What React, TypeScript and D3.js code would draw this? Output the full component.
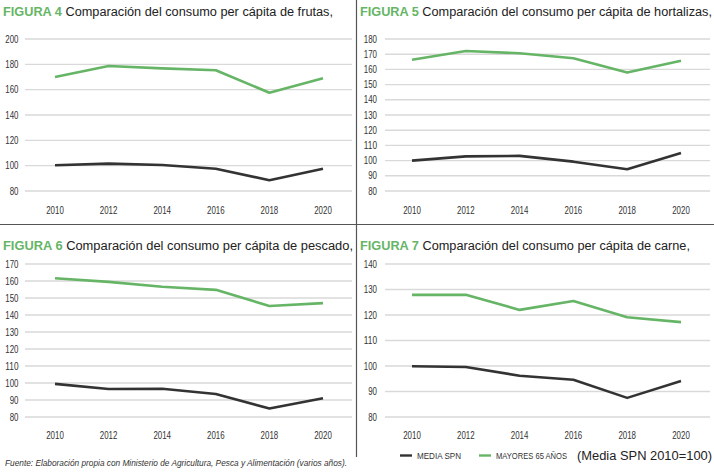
import * as d3 from "d3";
import { useEffect, useRef } from "react";

// Years on the x axis, shared by every panel
const years = [2010, 2012, 2014, 2016, 2018, 2020];

// Index values (Media SPN 2010 = 100)
const frutasMedia = [100.3, 101.6, 100.5, 97.6, 88.5, 97.6];
const frutasMayores = [170, 178.7, 176.8, 175.3, 157.6, 169];

const hortalizasMedia = [100, 102.8, 103.1, 99.3, 94.3, 105];
const hortalizasMayores = [166.4, 172.1, 170.6, 167.3, 157.9, 165.7];

const pescadoMedia = [99.5, 96.5, 96.6, 93.5, 85, 91];
const pescadoMayores = [161.6, 159.5, 156.6, 154.8, 145.3, 147];

const carneMedia = [99.9, 99.6, 96.2, 94.6, 87.5, 94.1];
const carneMayores = [127.9, 127.9, 122, 125.5, 119.1, 117.2];

// y axis ticks per panel
const frutasTicks = [80, 100, 120, 140, 160, 180, 200];
const hortalizasTicks = [80, 90, 100, 110, 120, 130, 140, 150, 160, 170, 180];
const pescadoTicks = [80, 90, 100, 110, 120, 130, 140, 150, 160, 170];
const carneTicks = [80, 90, 100, 110, 120, 130, 140];

const figureLabels = ["FIGURA 4", "FIGURA 5", "FIGURA 6", "FIGURA 7"];
const titleTexts = [
  " Comparación del consumo per cápita de frutas,",
  " Comparación del consumo per cápita de hortalizas,",
  " Comparación del consumo per cápita de pescado,",
  " Comparación del consumo per cápita de carne,",
];

const legendLabels = ["MEDIA SPN", "MAYORES 65 AÑOS"];
const legendNote = "(Media SPN 2010=100)";
const sourceNote =
  "Fuente: Elaboración propia con Ministerio de Agricultura, Pesca y Alimentación  (varios años).";

const GREEN = "#66b566";
const DARK = "#333333";
const GRID = "#d9d9d9";
const SANS = "'Liberation Sans', Arial, sans-serif";

// tick labels in the original are a condensed face: squeeze a regular one
const DIGIT_W = 4.4;

interface Panel {
  media: number[];
  mayores: number[];
  ticks: number[];
  col: number;
  row: number;
  titleWidth: number;
}

const panels: Panel[] = [
  { media: frutasMedia, mayores: frutasMayores, ticks: frutasTicks, col: 0, row: 0, titleWidth: 330 },
  { media: hortalizasMedia, mayores: hortalizasMayores, ticks: hortalizasTicks, col: 1, row: 0, titleWidth: 352 },
  { media: pescadoMedia, mayores: pescadoMayores, ticks: pescadoTicks, col: 0, row: 1, titleWidth: 350 },
  { media: carneMedia, mayores: carneMayores, ticks: carneTicks, col: 1, row: 1, titleWidth: 330 },
];

const W = 714;
const H = 476;

export default function App() {
  const svgRef = useRef<SVGSVGElement>(null);

  useEffect(() => {
    if (!svgRef.current) return;
    const svg = d3.select(svgRef.current);
    svg.selectAll("*").remove();

    // panel dividers
    svg.append("line").attr("x1", 0).attr("x2", W).attr("y1", 224.5).attr("y2", 224.5)
      .attr("stroke", "#555").attr("stroke-width", 1.2);
    svg.append("line").attr("x1", 356.5).attr("x2", 356.5).attr("y1", 0).attr("y2", 457)
      .attr("stroke", "#555").attr("stroke-width", 1.2);

    panels.forEach((p, i) => {
      const ox = p.col === 0 ? 0 : 357;
      const oy = p.row === 0 ? 0 : 225;
      const g = svg.append("g").attr("transform", `translate(${ox},${oy})`);

      const yTop = 39;
      const yBottom = p.row === 0 ? 191 : 192;
      const gridLeft = p.col === 0 ? 25 : 28;
      const gridRight = p.col === 0 ? 352 : 353;
      const labelRight = p.col === 0 ? 18.5 : 20;

      const x = d3.scaleLinear().domain([2010, 2020]).range(p.col === 0 ? [55, 323] : [55, 324]);
      const y = d3
        .scaleLinear()
        .domain([d3.min(p.ticks)!, d3.max(p.ticks)!])
        .range([yBottom, yTop]);

      // title
      const title = g
        .append("text")
        .attr("x", 3)
        .attr("y", p.row === 0 ? 16 : 25)
        .attr("font-family", SANS)
        .attr("font-size", 12.3)
        .attr("textLength", p.titleWidth)
        .attr("lengthAdjust", "spacingAndGlyphs");
      title.append("tspan").attr("fill", GREEN).attr("font-weight", "bold").text(figureLabels[i]);
      title.append("tspan").attr("fill", "#222").text(titleTexts[i]);

      // gridlines + labels
      g.append("g")
        .selectAll("line")
        .data(p.ticks)
        .join("line")
        .attr("x1", gridLeft)
        .attr("x2", gridRight)
        .attr("y1", (d) => y(d))
        .attr("y2", (d) => y(d))
        .attr("stroke", GRID)
        .attr("stroke-width", 1.4);

      g.append("g")
        .selectAll("text")
        .data(p.ticks)
        .join("text")
        .attr("x", labelRight)
        .attr("y", (d) => y(d))
        .attr("dy", "0.35em")
        .attr("text-anchor", "end")
        .attr("font-family", SANS)
        .attr("font-size", 10.5)
        .attr("fill", "#333")
        .attr("textLength", (d) => String(d).length * DIGIT_W)
        .attr("lengthAdjust", "spacingAndGlyphs")
        .text((d) => d);

      g.append("g")
        .selectAll("text")
        .data(years)
        .join("text")
        .attr("x", (d) => x(d))
        .attr("y", 214)
        .attr("text-anchor", "middle")
        .attr("font-family", SANS)
        .attr("font-size", 10.5)
        .attr("fill", "#333")
        .attr("textLength", (d) => String(d).length * DIGIT_W)
        .attr("lengthAdjust", "spacingAndGlyphs")
        .text((d) => d);

      const line = d3
        .line<number>()
        .x((_, j) => x(years[j]))
        .y((d) => y(d));

      g.append("path")
        .attr("d", line(p.mayores))
        .attr("fill", "none")
        .attr("stroke", GREEN)
        .attr("stroke-width", 2.6)
        .attr("stroke-linejoin", "round");

      g.append("path")
        .attr("d", line(p.media))
        .attr("fill", "none")
        .attr("stroke", DARK)
        .attr("stroke-width", 2.6)
        .attr("stroke-linejoin", "round");
    });

    // source
    svg.append("text")
      .attr("x", 5)
      .attr("y", 466)
      .attr("font-family", SANS)
      .attr("font-style", "italic")
      .attr("font-size", 9)
      .attr("fill", "#333")
      .attr("textLength", 342)
      .attr("lengthAdjust", "spacingAndGlyphs")
      .text(sourceNote);

    // legend
    const legend = [
      { label: legendLabels[0], color: DARK, x: 400, w: 44 },
      { label: legendLabels[1], color: GREEN, x: 479, w: 71 },
    ];
    legend.forEach((l) => {
      svg.append("line")
        .attr("x1", l.x).attr("x2", l.x + 12)
        .attr("y1", 455.5).attr("y2", 455.5)
        .attr("stroke", l.color).attr("stroke-width", 2.4);
      svg.append("text")
        .attr("x", l.x + 17)
        .attr("y", 459)
        .attr("font-family", SANS)
        .attr("font-size", 8.5)
        .attr("fill", "#333")
        .attr("textLength", l.w)
        .attr("lengthAdjust", "spacingAndGlyphs")
        .text(l.label);
    });
    svg.append("text")
      .attr("x", 577)
      .attr("y", 460)
      .attr("font-family", SANS)
      .attr("font-size", 12.5)
      .attr("fill", "#222")
      .attr("textLength", 135)
      .attr("lengthAdjust", "spacingAndGlyphs")
      .text(legendNote);
  }, []);

  return (
    <svg
      ref={svgRef}
      width={W}
      height={H}
      style={{ position: "absolute", left: 0, top: 0, background: "#fff" }}
    />
  );
}
